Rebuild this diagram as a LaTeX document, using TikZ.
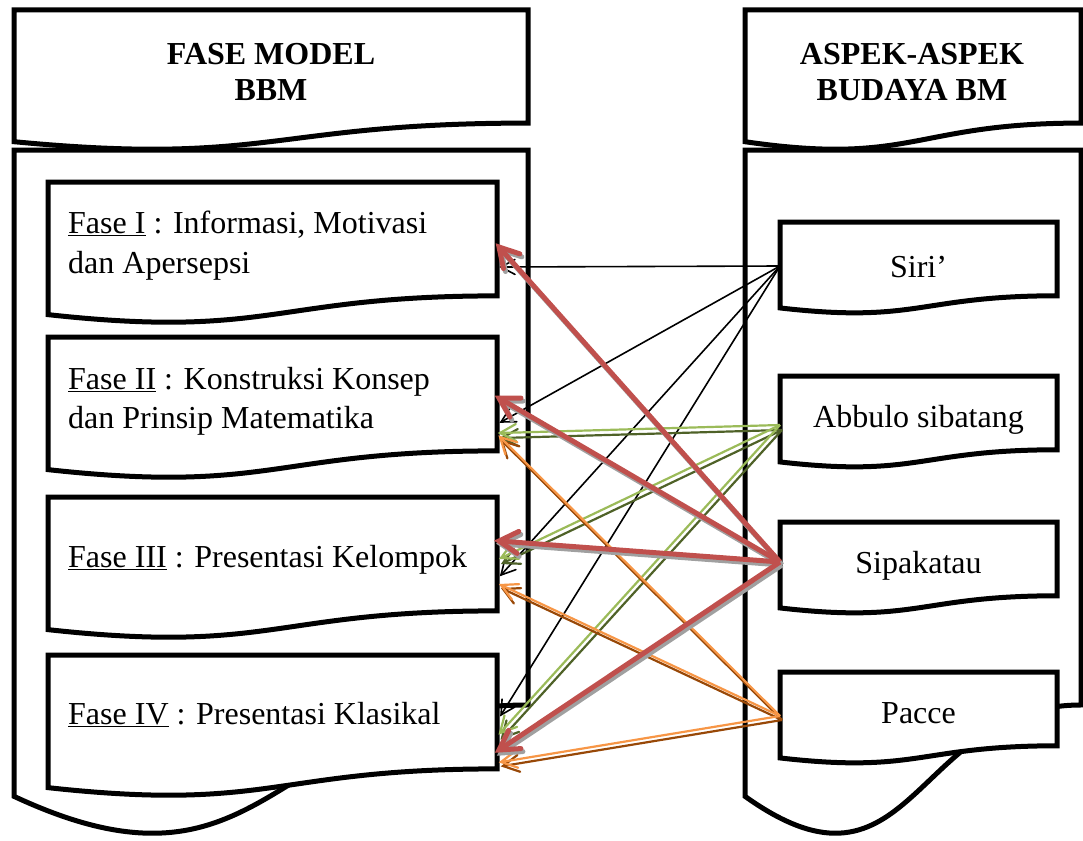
\documentclass[tikz,border=0pt]{standalone}
\usepackage{fontspec}
\setmainfont{Liberation Serif}
\usetikzlibrary{calc,decorations.markings}
\definecolor{redA}{HTML}{C0504D}
\definecolor{shadowG}{HTML}{A0A0A0}
\definecolor{greenL}{HTML}{9BBB59}
\definecolor{greenD}{HTML}{4F6228}
\definecolor{orangeL}{HTML}{F79646}
\definecolor{orangeD}{HTML}{984807}
\newcommand\docshape[1]{%
  \draw[boxline] (#1.north west) -- (#1.north east)
    -- ($(#1.north east)!0.802!(#1.south east)$)
    .. controls ($(#1.north)!0.802!(#1.south)$) and ($(#1.north)!1.1075!(#1.south)$)
    .. ($(#1.north west)!0.934!(#1.south west)$) -- cycle;}
\newcommand\twoline[5]{% shadow style, main style, from, to, shift
  \draw[#1] ([shift={#5}]#3) -- ([shift={#5}]#4);
  \draw[#2] (#3) -- (#4);}
\tikzset{
  boxline/.style={draw=black, line width=5pt, fill=white, line join=miter},
  frame/.style={rectangle, inner sep=0pt, outer sep=0pt, anchor=north west},
  headtxt/.style={font=\bfseries\fontsize{32}{36}\selectfont, align=center, inner sep=0pt, anchor=north},
  fasetxt/.style={font=\fontsize{32}{39.5}\selectfont, align=left, inner sep=0pt},
  asptxt/.style={font=\fontsize{32}{39.5}\selectfont, inner sep=0pt, anchor=base},
  vhead/.style n args={4}{postaction={decorate, decoration={markings,
     mark=at position 1 with {\draw[draw=#3, line width=#4, line join=miter, line cap=round] (-#1pt,#2pt) -- (0pt,0pt) -- (-#1pt,-#2pt);}}}},
  blk/.style={draw=black, line width=1.6pt, vhead={14}{7.5}{black}{1.6pt}},
  grnL/.style={draw=greenL, line width=2.2pt, vhead={16}{8.5}{greenL}{2.2pt}},
  grnD/.style={draw=greenD, line width=2.2pt, vhead={16}{8.5}{greenD}{2.2pt}},
  orgL/.style={draw=orangeL, line width=2.2pt, vhead={16}{8.5}{orangeL}{2.2pt}},
  orgD/.style={draw=orangeD, line width=2.2pt, vhead={16}{8.5}{orangeD}{2.2pt}},
  redM/.style={draw=redA, line width=5pt, vhead={19}{11}{redA}{5pt}},
  redS/.style={draw=shadowG, line width=5pt, vhead={19}{11}{shadowG}{5pt}},
}
\begin{document}
\begin{tikzpicture}[x=1pt,y=-1pt]
\useasboundingbox (0,0) rectangle (1083,840);
% containers
\node[frame, minimum width=514pt, minimum height=141pt] (lhead) at (14,10) {};
\node[frame, minimum width=336pt, minimum height=141pt] (rhead) at (745,10) {};
\node[frame, minimum width=514pt, minimum height=692pt] (lbody) at (14,150) {};
\node[frame, minimum width=336pt, minimum height=692pt] (rbody) at (745,150) {};
\docshape{lhead}\docshape{rhead}\docshape{lbody}\docshape{rbody}
% fase boxes
\node[frame, minimum width=449pt, minimum height=142pt] (f1) at (48,182) {};
\node[frame, minimum width=449pt, minimum height=142pt] (f2) at (48,337) {};
\node[frame, minimum width=449pt, minimum height=142pt] (f3) at (48,497) {};
\node[frame, minimum width=449pt, minimum height=142pt] (f4) at (48,655) {};
\docshape{f1}\docshape{f2}\docshape{f3}\docshape{f4}
% aspect boxes
\node[frame, minimum width=277pt, minimum height=92pt] (siri) at (780,222) {};
\node[frame, minimum width=277pt, minimum height=92pt] (abbulo) at (780,376) {};
\node[frame, minimum width=277pt, minimum height=92pt] (sipakatau) at (780,522) {};
\node[frame, minimum width=277pt, minimum height=92pt] (pacce) at (780,672) {};
\docshape{siri}\docshape{abbulo}\docshape{sipakatau}\docshape{pacce}
% texts
\node[headtxt] (lheadtxt) at (271,43) {FASE MODEL\\BBM};
\node[headtxt] (rheadtxt) at (912,43) {ASPEK-ASPEK\\BUDAYA BM};
\node[fasetxt, anchor=north west] (f1txt) at (68,211) {\underline{Fase I} : Informasi, Motivasi\\dan Apersepsi};
\node[fasetxt, anchor=north west] (f2txt) at (68,367) {\underline{Fase II} : Konstruksi Konsep\\dan Prinsip Matematika};
\node[fasetxt, anchor=base west] (f3txt) at (68,567) {\underline{Fase III} : Presentasi Kelompok};
\node[fasetxt, anchor=base west] (f4txt) at (68,724) {\underline{Fase IV} : Presentasi Klasikal};
\node[asptxt] (siritxt) at (918.5,277) {Siri’};
\node[asptxt] (abbulotxt) at (918.5,427) {Abbulo sibatang};
\node[asptxt] (sipakatautxt) at (918.5,573) {Sipakatau};
\node[asptxt] (paccetxt) at (918.5,723) {Pacce};
% connector end points
\coordinate (siriout) at (780,266);
\coordinate (abbout) at (780,425);
\coordinate (sipout) at (780,562);
\coordinate (pacout) at (780,716);
\coordinate (f1k) at (501,267);
\coordinate (f2k) at (501,422);
\coordinate (f3k) at (501,575);
\coordinate (f4k) at (501,715);
\coordinate (f2g) at (500,433);
\coordinate (f3g) at (501,558);
\coordinate (f4g) at (500,733);
\coordinate (f1r) at (499,247);
\coordinate (f2r) at (499,398);
\coordinate (f3r) at (499,541);
\coordinate (f4r) at (499,750);
\coordinate (f2o) at (500,437);
\coordinate (f3o) at (501,585);
\coordinate (f4o) at (501,762);
% black (Siri')
\draw[blk] (siriout) -- (f1k);
\draw[blk] (siriout) -- (f2k);
\draw[blk] (siriout) -- (f3k);
\draw[blk] (siriout) -- (f4k);
% green (Abbulo sibatang)
\twoline{grnD}{grnL}{abbout}{f2g}{(2,5)}
\twoline{grnD}{grnL}{abbout}{f3g}{(2,5)}
\twoline{grnD}{grnL}{abbout}{f4g}{(2,5)}
% orange (Pacce)
\twoline{orgD}{orgL}{pacout}{f2o}{(2,4)}
\twoline{orgD}{orgL}{pacout}{f3o}{(2,4)}
\twoline{orgD}{orgL}{pacout}{f4o}{(2,4)}
% red (Sipakatau)
\twoline{redS}{redM}{sipout}{f1r}{(2,3)}
\twoline{redS}{redM}{sipout}{f2r}{(2,3)}
\twoline{redS}{redM}{sipout}{f3r}{(2,3)}
\twoline{redS}{redM}{sipout}{f4r}{(2,3)}
\end{tikzpicture}
\end{document}
